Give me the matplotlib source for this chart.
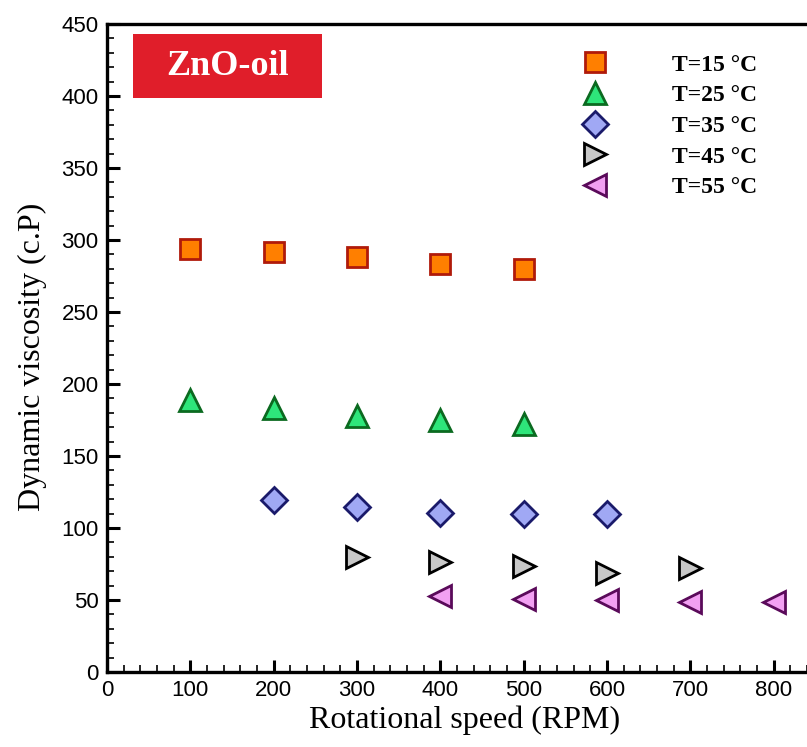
import matplotlib.pyplot as plt
from matplotlib.patches import Rectangle
from matplotlib.ticker import MultipleLocator

# data
rpm_15 = [100, 200, 300, 400, 500]
visc_15 = [294, 292, 288, 283, 280]
rpm_25 = [100, 200, 300, 400, 500]
visc_25 = [189, 183, 178, 175, 172]
rpm_35 = [200, 300, 400, 500, 600]
visc_35 = [119.5, 114.5, 110.5, 110, 109.5]
rpm_45 = [300, 400, 500, 600, 700]
visc_45 = [80, 76.5, 73.5, 69, 72]
rpm_55 = [400, 500, 600, 700, 800]
visc_55 = [53, 51, 50, 48.5, 48.5]

labels = ["T=15 °C", "T=25 °C", "T=35 °C", "T=45 °C", "T=55 °C"]

fig = plt.figure(figsize=(8.07, 7.47), dpi=100)
ax = fig.add_axes([107 / 807, 75 / 747, 700 / 807, 648 / 747])

ms = 14
ax.plot(rpm_15, visc_15, "s", ms=ms, mfc="#ff7f00", mec="#b01a0a", mew=2, label=labels[0])
ax.plot(rpm_25, visc_25, "^", ms=ms + 2, mfc="#2ee67a", mec="#0b6a20", mew=2, label=labels[1])
ax.plot(rpm_35, visc_35, "D", ms=ms - 1, mfc="#a0a8f4", mec="#1a1a6a", mew=2, label=labels[2])
ax.plot(rpm_45, visc_45, ">", ms=ms + 2, mfc="#c8c8c8", mec="#000000", mew=2, label=labels[3])
ax.plot(rpm_55, visc_55, "<", ms=ms + 2, mfc="#f2a0f2", mec="#5a0a5a", mew=2, label=labels[4])

ax.set_xlim(0, 840)
ax.set_ylim(0, 450)
ax.set_xticks([0, 100, 200, 300, 400, 500, 600, 700, 800])
ax.set_yticks([0, 50, 100, 150, 200, 250, 300, 350, 400, 450])
ax.xaxis.set_minor_locator(MultipleLocator(20))
ax.yaxis.set_minor_locator(MultipleLocator(10))
ax.tick_params(which="major", direction="in", length=9, width=2.2, labelsize=16, pad=6)
ax.tick_params(which="minor", direction="in", length=5, width=1.2)
for lab in ax.get_xticklabels() + ax.get_yticklabels():
    lab.set_fontfamily("Liberation Sans")

for side in ["left", "bottom", "top"]:
    ax.spines[side].set_linewidth(2.4)
ax.spines["right"].set_visible(False)

ax.set_xlabel("Rotational speed (RPM)", family="Liberation Serif", fontsize=23)
ax.xaxis.set_label_coords(0.511, -0.052)
ax.set_ylabel("Dynamic viscosity (c.P)", family="Liberation Serif", fontsize=23)
ax.yaxis.set_label_coords(-0.086, 0.486)

# title box
ax.add_patch(Rectangle((0.037, 0.886), 0.27, 0.0985, transform=ax.transAxes,
                       fc="#e01e2a", ec="none", zorder=3))
ax.text(0.172, 0.935, "ZnO-oil", transform=ax.transAxes, ha="center", va="center",
        family="Liberation Serif", fontweight="bold", fontsize=26, color="white", zorder=4)

ax.legend(loc="upper left", bbox_to_anchor=(583 / 807, 1 - 54 / 747),
          bbox_transform=fig.transFigure, frameon=False, borderpad=0, borderaxespad=0,
          handlelength=1.0, handletextpad=2.75, labelspacing=0.39,
          prop={"family": "Liberation Serif", "weight": "bold", "size": 17})

fig.savefig("out.png", dpi=100)
